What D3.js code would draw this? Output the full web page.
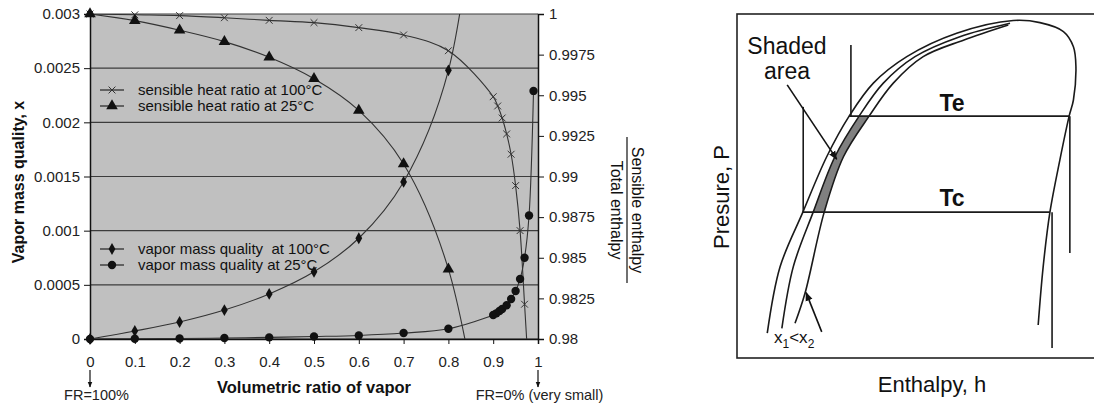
<!DOCTYPE html>
<html>
<head>
<meta charset="utf-8">
<script src="https://cdn.jsdelivr.net/npm/d3@7"></script>
<style>
  body { margin: 0; background: #fff; }
  svg { display: block; font-family: Arial, "Liberation Sans", sans-serif; }
</style>
</head>
<body>
<div id="canvas"></div>
<script>
// ////////// DATA /////////////

// left chart: volumetric ratio of vapor on x
var xTicks = [0, 0.1, 0.2, 0.3, 0.4, 0.5, 0.6, 0.7, 0.8, 0.9, 1];
var yLeftTicks = [0, 0.0005, 0.001, 0.0015, 0.002, 0.0025, 0.003];
var yRightTicks = [0.98, 0.9825, 0.985, 0.9875, 0.99, 0.9925, 0.995, 0.9975, 1];

// vapor mass quality at 100°C (left axis)
var vmq100X = [0, 0.1, 0.2, 0.3, 0.4, 0.5, 0.6, 0.7, 0.8, 0.9];
var vmq100 = [0, 0.000074, 0.000157, 0.000267, 0.000416, 0.00062, 0.00093, 0.00145, 0.00248, 0.0056];

// vapor mass quality at 25°C (left axis)
var vmq25X = [0, 0.1, 0.2, 0.3, 0.4, 0.5, 0.6, 0.7, 0.8, 0.9, 0.907, 0.914, 0.92, 0.93, 0.94, 0.95, 0.96, 0.97, 0.98, 0.99];
var vmq25 = [0, 0.000002, 0.000005, 0.000009, 0.000015, 0.000023, 0.000033, 0.000055, 0.000095, 0.000222,
  0.000237, 0.000258, 0.000277, 0.000311, 0.000369, 0.000443, 0.000554, 0.00075, 0.00114, 0.00229];

// sensible heat ratio at 100°C (right axis)
var shr100X = [0, 0.1, 0.2, 0.3, 0.4, 0.5, 0.6, 0.7, 0.8, 0.9, 0.91, 0.92, 0.93, 0.94, 0.95, 0.96, 0.97, 0.98];
var shr100 = [1, 0.99995, 0.9999, 0.99977, 0.99961, 0.99947, 0.99916, 0.99871, 0.99774, 0.99491,
  0.99434, 0.9936, 0.99262, 0.99137, 0.98944, 0.98667, 0.98214, 0.9775];

// sensible heat ratio at 25°C (right axis)
var shr25X = [0, 0.1, 0.2, 0.3, 0.4, 0.5, 0.6, 0.7, 0.8, 0.9];
var shr25 = [1, 0.99959, 0.999, 0.9983, 0.99734, 0.99602, 0.99407, 0.99077, 0.9843, 0.97];

// right sketch: P-h diagram, arbitrary units 0-100
var domeH = [8.5, 12.1, 18.5, 25.2, 31.5, 38.3, 47.7, 61.7, 77.6, 85.1, 91.7, 94.5, 95.2, 94.5, 93.3, 90.7, 87.9, 86.0, 84.6];
var domeP = [7.2, 26.5, 42.4, 58.5, 70.3, 79.9, 87.6, 94.4, 98.1, 97.5, 94.9, 90.5, 84.7, 75.0, 70.3, 57.6, 42.4, 26.5, 9.6];
var x1H = [12.6, 15.8, 21.4, 27.5, 34.3, 41.1, 50.0, 62.6, 76.7];
var x1P = [8.6, 26.5, 42.4, 58.5, 70.3, 79.9, 87.6, 93.4, 97.3];
var x2H = [16.3, 19.1, 24.5, 29.9, 37.1, 43.9, 52.3, 63.6, 76.2];
var x2P = [10.1, 18.8, 42.4, 58.5, 70.3, 79.9, 87.6, 92.4, 96.8];
var shadeP = [42.4, 58.5, 70.3];
var shadeX1 = [21.4, 27.5, 34.3];
var shadeX2 = [24.5, 29.9, 37.1];
var PTe = 70.3, PTc = 42.4;
// straight segments [h1, P1, h2, P2]
var cycleLines = [
  [31.5, PTe, 93.3, PTe],
  [18.5, PTc, 87.9, PTc],
  [18.6, PTc, 18.6, 73.0],
  [32.0, PTe, 32.0, 91.0],
  [93.5, PTe, 93.5, 30.5],
  [88.5, PTc, 88.5, 2.9]
];

///////// GLOBAL VARS //////////

var W = 1094, H = 403;
var font = "Arial, 'Liberation Sans', sans-serif";

var svg = d3.select("#canvas")
  .append("svg")
  .attr("width", W)
  .attr("height", H);

var defs = svg.append("defs");
defs.append("clipPath").attr("id", "plotclip")
  .append("rect").attr("x", 90).attr("y", 14).attr("width", 448).attr("height", 325);
defs.append("marker")
  .attr("id", "arrow")
  .attr("viewBox", "0 0 10 10")
  .attr("refX", 9).attr("refY", 5)
  .attr("markerWidth", 9).attr("markerHeight", 9)
  .attr("markerUnits", "userSpaceOnUse")
  .attr("orient", "auto")
  .append("path").attr("d", "M0,1 L10,5 L0,9 Z").attr("fill", "#111");
defs.append("marker")
  .attr("id", "arrowS")
  .attr("viewBox", "0 0 10 10")
  .attr("refX", 9).attr("refY", 5)
  .attr("markerWidth", 6).attr("markerHeight", 6)
  .attr("markerUnits", "userSpaceOnUse")
  .attr("orient", "auto")
  .append("path").attr("d", "M0,1 L10,5 L0,9 Z").attr("fill", "#111");

// scales
var x = d3.scaleLinear().domain([0, 1]).range([90, 538]);
var yL = d3.scaleLinear().domain([0, 0.003]).range([339, 14]);
var yR = d3.scaleLinear().domain([0.98, 1]).range([339, 14]);

// plot area
svg.append("rect")
  .attr("x", 90).attr("y", 14)
  .attr("width", 448).attr("height", 325)
  .attr("fill", "#c0c0c0");

// gridlines
svg.append("g")
  .selectAll("line")
  .data(yLeftTicks)
  .join("line")
  .attr("x1", 90).attr("x2", 538)
  .attr("y1", d => yL(d)).attr("y2", d => yL(d))
  .attr("stroke", "#3c3c3c")
  .attr("stroke-width", 1.1);

// axes
var fmt = d => String(+d.toFixed(5));

var axL = svg.append("g")
  .attr("transform", "translate(90,0)")
  .call(d3.axisLeft(yL).tickValues(yLeftTicks).tickFormat(fmt).tickSize(6).tickPadding(4));
var axR = svg.append("g")
  .attr("transform", "translate(538,0)")
  .call(d3.axisRight(yR).tickValues(yRightTicks).tickFormat(fmt).tickSize(6).tickPadding(5));
var axB = svg.append("g")
  .attr("transform", "translate(0,339)")
  .call(d3.axisBottom(x).tickValues(xTicks).tickFormat(fmt).tickSize(5).tickPadding(12));

[axL, axR, axB].forEach(a => {
  a.selectAll("path").attr("stroke", "#111").attr("stroke-width", 1.5);
  a.selectAll("line").attr("stroke", "#111");
  a.selectAll("text").attr("font-family", font).attr("font-size", 15).attr("fill", "#222");
});

// series lines
var lineL = d3.line().x(d => x(d[0])).y(d => yL(d[1])).curve(d3.curveCatmullRom.alpha(0.5));
var lineR = d3.line().x(d => x(d[0])).y(d => yR(d[1])).curve(d3.curveCatmullRom.alpha(0.5));

var series = [
  { xs: vmq100X, ys: vmq100, line: lineL, y: yL, mark: "diamond" },
  { xs: vmq25X, ys: vmq25, line: lineL, y: yL, mark: "circle" },
  { xs: shr100X, ys: shr100, line: lineR, y: yR, mark: "cross" },
  { xs: shr25X, ys: shr25, line: lineR, y: yR, mark: "triangle" }
];

var symbols = {
  diamond: d3.symbol().type(d3.symbolDiamond).size(40),
  circle: d3.symbol().type(d3.symbolCircle).size(55),
  cross: d3.symbol().type(d3.symbolX).size(32),
  triangle: d3.symbol().type(d3.symbolTriangle).size(58)
};

function drawMark(g, type, px, py) {
  g.append("path")
    .attr("d", symbols[type]())
    .attr("transform", `translate(${px},${py})`)
    .attr("fill", type == "cross" ? "none" : "#111")
    .attr("stroke", type == "cross" ? "#333" : "none")
    .attr("stroke-width", 1);
}

var plot = svg.append("g").attr("clip-path", "url(#plotclip)");

series.forEach(s => {
  var pts = s.xs.map((v, i) => [v, s.ys[i]]);
  plot.append("path")
    .datum(pts)
    .attr("d", s.line)
    .attr("fill", "none")
    .attr("stroke", "#333")
    .attr("stroke-width", 1.1);
});

series.forEach(s => {
  var dom = s.y.domain();
  s.xs.forEach((v, i) => {
    if (s.ys[i] < dom[0] - 1e-9 || s.ys[i] > dom[1] + 1e-9) return;
    drawMark(svg, s.mark, x(v), s.y(s.ys[i]));
  });
});

// legends
var legendItems = [
  { mark: "cross", label: "sensible heat ratio at 100°C", y: 90 },
  { mark: "triangle", label: "sensible heat ratio at 25°C", y: 106 },
  { mark: "diamond", label: "vapor mass quality  at 100°C", y: 249 },
  { mark: "circle", label: "vapor mass quality at 25°C", y: 265 }
];
legendItems.forEach(l => {
  svg.append("line")
    .attr("x1", 100).attr("x2", 124)
    .attr("y1", l.y).attr("y2", l.y)
    .attr("stroke", "#222").attr("stroke-width", 1.2);
  drawMark(svg, l.mark, 112, l.y);
  svg.append("text")
    .attr("x", 138).attr("y", l.y + 5)
    .attr("font-family", font).attr("font-size", 15)
    .attr("fill", "#111")
    .attr("xml:space", "preserve")
    .style("white-space", "pre")
    .text(l.label);
});

// axis titles
svg.append("text")
  .attr("transform", "translate(24,182) rotate(-90)")
  .attr("text-anchor", "middle")
  .attr("font-family", font).attr("font-size", 16).attr("font-weight", "bold")
  .attr("fill", "#111")
  .text("Vapor mass quality, x");

svg.append("text")
  .attr("x", 314).attr("y", 393)
  .attr("text-anchor", "middle")
  .attr("font-family", font).attr("font-size", 16.5).attr("font-weight", "bold")
  .attr("fill", "#111")
  .text("Volumetric ratio of vapor");

var frac = svg.append("g").attr("transform", "translate(627,210) rotate(90)");
frac.append("text")
  .attr("x", 0).attr("y", -5)
  .attr("text-anchor", "middle")
  .attr("font-family", font).attr("font-size", 16)
  .attr("fill", "#111")
  .text("Sensible enthalpy");
frac.append("line")
  .attr("x1", -73).attr("x2", 73).attr("y1", 0).attr("y2", 0)
  .attr("stroke", "#111").attr("stroke-width", 1.2);
frac.append("text")
  .attr("x", 0).attr("y", 16)
  .attr("text-anchor", "middle")
  .attr("font-family", font).attr("font-size", 16)
  .attr("fill", "#111")
  .text("Total enthalpy");

// FR notes with arrows
[[0, "FR=100%", 96.5], [1, "FR=0% (very small)", 539.5]].forEach(f => {
  svg.append("line")
    .attr("x1", x(f[0])).attr("x2", x(f[0]))
    .attr("y1", 370).attr("y2", 387)
    .attr("stroke", "#111").attr("stroke-width", 1.2)
    .attr("marker-end", "url(#arrowS)");
  svg.append("text")
    .attr("x", f[2]).attr("y", 400)
    .attr("text-anchor", "middle")
    .attr("font-family", font).attr("font-size", 14.5)
    .attr("fill", "#222")
    .text(f[1]);
});

/////// RIGHT SKETCH ///////

var hS = d3.scaleLinear().domain([0, 100]).range([737, 1093]);
var pS = d3.scaleLinear().domain([0, 100]).range([358, 14]);

svg.append("rect")
  .attr("x", 737).attr("y", 14)
  .attr("width", 380).attr("height", 344)
  .attr("fill", "none")
  .attr("stroke", "#222").attr("stroke-width", 1.6);

// shaded band between the two quality lines
svg.append("path")
  .datum(shadeP.map((p, i) => [p, shadeX1[i], shadeX2[i]]))
  .attr("d", d3.area()
    .y(d => pS(d[0]))
    .x0(d => hS(d[1]))
    .x1(d => hS(d[2]))
    .curve(d3.curveCatmullRom))
  .attr("fill", "#808080");

var curveLine = d3.line().x(d => hS(d[0])).y(d => pS(d[1])).curve(d3.curveCatmullRom.alpha(0.5));
[[domeH, domeP], [x1H, x1P], [x2H, x2P]].forEach(c => {
  svg.append("path")
    .datum(c[0].map((h, i) => [h, c[1][i]]))
    .attr("d", curveLine)
    .attr("fill", "none")
    .attr("stroke", "#1a1a1a")
    .attr("stroke-width", 1.6);
});

svg.append("g")
  .selectAll("line")
  .data(cycleLines)
  .join("line")
  .attr("x1", d => hS(d[0])).attr("y1", d => pS(d[1]))
  .attr("x2", d => hS(d[2])).attr("y2", d => pS(d[3]))
  .attr("stroke", "#1a1a1a")
  .attr("stroke-width", 1.6);

// arrows
svg.append("line")
  .attr("x1", hS(14.1)).attr("y1", pS(79.4))
  .attr("x2", hS(28.0)).attr("y2", pS(57.8))
  .attr("stroke", "#111").attr("stroke-width", 1.6)
  .attr("marker-end", "url(#arrow)");
svg.append("line")
  .attr("x1", hS(23.8)).attr("y1", pS(7.6))
  .attr("x2", hS(19.4)).attr("y2", pS(19.0))
  .attr("stroke", "#111").attr("stroke-width", 1.6)
  .attr("marker-end", "url(#arrow)");

// labels
var sketchText = (tx, ty, str, size, weight, anchor) => svg.append("text")
  .attr("x", tx).attr("y", ty)
  .attr("text-anchor", anchor || "middle")
  .attr("font-family", font).attr("font-size", size)
  .attr("font-weight", weight || "normal")
  .attr("fill", "#111")
  .text(str);

sketchText(787, 54, "Shaded", 23);
sketchText(787, 79, "area", 23);
sketchText(952, 111, "Te", 23, "bold");
sketchText(952, 206, "Tc", 23, "bold");
sketchText(932, 392, "Enthalpy, h", 22);

svg.append("text")
  .attr("transform", "translate(729,197) rotate(-90)")
  .attr("text-anchor", "middle")
  .attr("font-family", font).attr("font-size", 22)
  .attr("fill", "#111")
  .text("Presure, P");

var xl = svg.append("text")
  .attr("x", 774).attr("y", 343)
  .attr("font-family", font).attr("font-size", 17)
  .attr("fill", "#111");
xl.append("tspan").text("x");
xl.append("tspan").attr("dy", 5).attr("font-size", 12).text("1");
xl.append("tspan").attr("dy", -5).text("<x");
xl.append("tspan").attr("dy", 5).attr("font-size", 12).text("2");
</script>
</body>
</html>
